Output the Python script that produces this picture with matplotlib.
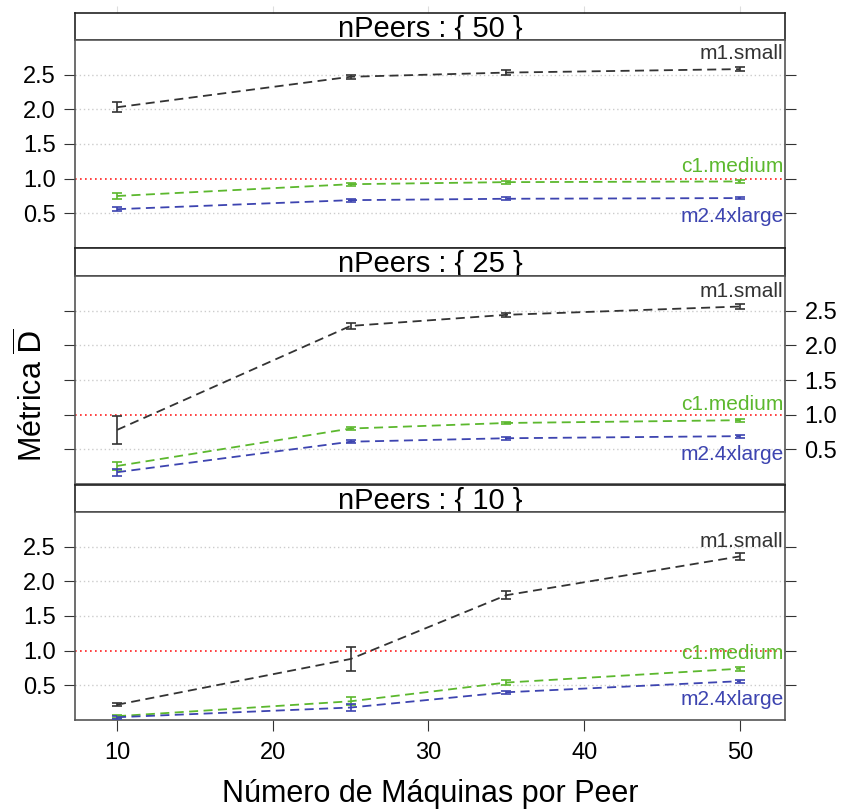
import numpy as np
import matplotlib
matplotlib.use("Agg")
import matplotlib.pyplot as plt

plt.rcParams['font.family'] = ['Liberation Sans', 'DejaVu Sans']

# dados
maquinas = [10, 25, 35, 50]
npeers = [50, 25, 10]
tipos = ["m1.small", "c1.medium", "m2.4xlarge"]

m1_small_50 = [2.03, 2.47, 2.53, 2.58]
m1_small_50_err = [0.07, 0.03, 0.04, 0.03]
c1_medium_50 = [0.75, 0.92, 0.95, 0.96]
c1_medium_50_err = [0.04, 0.02, 0.02, 0.02]
m2_4xlarge_50 = [0.56, 0.69, 0.71, 0.72]
m2_4xlarge_50_err = [0.03, 0.02, 0.02, 0.02]

m1_small_25 = [0.78, 2.28, 2.44, 2.56]
m1_small_25_err = [0.20, 0.04, 0.03, 0.04]
c1_medium_25 = [0.26, 0.80, 0.88, 0.92]
c1_medium_25_err = [0.06, 0.02, 0.02, 0.02]
m2_4xlarge_25 = [0.17, 0.61, 0.66, 0.69]
m2_4xlarge_25_err = [0.05, 0.02, 0.02, 0.02]

m1_small_10 = [0.22, 0.88, 1.80, 2.36]
m1_small_10_err = [0.02, 0.18, 0.06, 0.05]
c1_medium_10 = [0.055, 0.27, 0.54, 0.74]
c1_medium_10_err = [0.02, 0.06, 0.03, 0.03]
m2_4xlarge_10 = [0.04, 0.18, 0.40, 0.56]
m2_4xlarge_10_err = [0.02, 0.05, 0.02, 0.02]

dados = {
    50: [(m1_small_50, m1_small_50_err), (c1_medium_50, c1_medium_50_err), (m2_4xlarge_50, m2_4xlarge_50_err)],
    25: [(m1_small_25, m1_small_25_err), (c1_medium_25, c1_medium_25_err), (m2_4xlarge_25, m2_4xlarge_25_err)],
    10: [(m1_small_10, m1_small_10_err), (c1_medium_10, c1_medium_10_err), (m2_4xlarge_10, m2_4xlarge_10_err)],
}

cores = ["#333333", "#5cb82e", "#3d44b0"]
deslocamento = [0.22, 0.22, -0.27]  # posicao do rotulo em relacao ao ultimo ponto

W, H = 842, 809
fig = plt.figure(figsize=(W / 100, H / 100), dpi=100)

def caixa(x0, y0, x1, y1):  # pixels (topo->baixo) para coords da figura
    return [x0 / W, 1 - y1 / H, (x1 - x0) / W, (y1 - y0) / H]

x0, x1 = 75, 785
paineis = [(13, 40, 248), (248, 276, 484), (485, 512, 720)]

for i, (np_, (s0, s1, p1)) in enumerate(zip(npeers, paineis)):
    # faixa com o titulo
    st = fig.add_axes(caixa(x0, s0, x1, s1))
    st.set_xlim(7.3, 52.9)
    st.set_yticks([])
    st.set_xticks([])
    for sp in st.spines.values():
        sp.set_color("#222222")
        sp.set_linewidth(1.2)
    st.text(0.5, 0.42, "nPeers : { %d }" % np_, transform=st.transAxes,
            ha="center", va="center", fontsize=21)
    if i == 0:
        st.set_xticks([10, 20, 30, 40, 50])
        st.tick_params(axis="x", top=True, bottom=False, labeltop=False,
                       labelbottom=False, color="#dddddd", length=5)

    ax = fig.add_axes(caixa(x0, s1, x1, p1))
    ax.set_xlim(7.3, 52.9)
    ax.set_ylim(0.0, 3.0)
    for g in [0.5, 1.5, 2.0, 2.5]:
        ax.axhline(g, color="#cccccc", linestyle=(0, (1, 2)), linewidth=1.0, zorder=0)
    ax.axhline(1.0, color="#ff2020", linestyle=(0, (1, 2)), linewidth=1.2, zorder=1)

    for (vals, errs), cor, nome, dy in zip(dados[np_], cores, tipos, deslocamento):
        ax.errorbar(maquinas, vals, yerr=errs, color=cor, linestyle=(0, (5, 3)),
                    linewidth=1.3, capsize=3.5, elinewidth=1.2, capthick=1.2, zorder=3)
        ax.text(0.998, vals[-1] + dy, nome, color=cor, fontsize=15,
                ha="right", va="center", transform=ax.get_yaxis_transform())

    ax.set_yticks([0.5, 1.0, 1.5, 2.0, 2.5])
    ax.set_yticklabels(["0.5", "1.0", "1.5", "2.0", "2.5"])
    ax.tick_params(axis="y", left=True, right=True, direction="out", length=8,
                   pad=6, labelsize=17, labelleft=(i != 1), labelright=(i == 1),
                   color="#333333")
    ax.set_xticks([10, 20, 30, 40, 50])
    if i == 2:
        ax.tick_params(axis="x", direction="out", length=8, pad=8,
                       labelsize=17, color="#333333")
    else:
        ax.tick_params(axis="x", bottom=False, labelbottom=False)
    for sp in ax.spines.values():
        sp.set_color("#555555")
        sp.set_linewidth(1.2)

fig.text(33 / W, 1 - 395 / H, "Métrica $\\overline{\\mathrm{D}}$", rotation=90,
         ha="center", va="center", fontsize=22)
fig.text(430 / W, 1 - 794 / H, "Número de Máquinas por Peer", ha="center",
         va="center", fontsize=22)

fig.savefig("out.png", dpi=100)
